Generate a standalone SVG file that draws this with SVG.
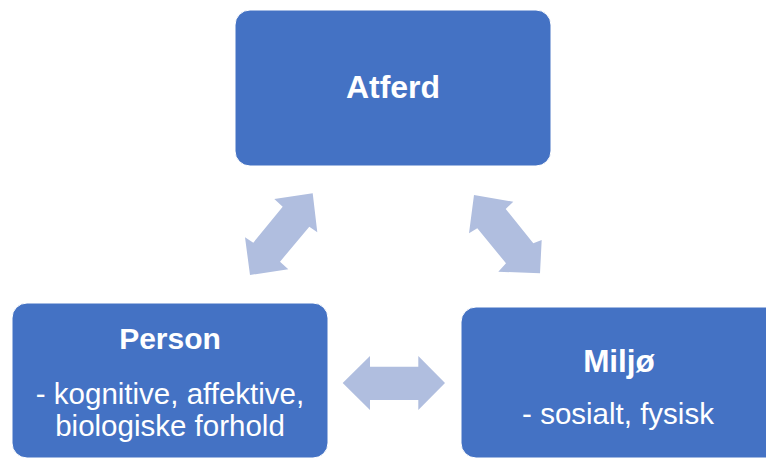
<svg xmlns="http://www.w3.org/2000/svg" width="766" height="460" viewBox="0 0 766 460">
<style>
.box{fill:#4472C4;stroke:#ffffff;stroke-width:1}
.arr{fill:#B0BEDF}
.t{font-family:"Liberation Sans",Arial,sans-serif;fill:#ffffff;text-anchor:middle}
.b{font-weight:bold}
</style>
<rect width="766" height="460" fill="#ffffff"/>
<g id="connectors">
<polygon class="arr" points="312.7,193.3 274.3,199 282.7,206.7 253.3,242.7 245,237.3 250,275 288.3,269.3 280,261.7 309.3,226.7 317.3,232.3"/>
<polygon class="arr" points="474,195 513.3,201.7 505.7,209 533.3,243.3 541.7,240 540,273.3 498.3,271.7 506,263.3 477.3,228.3 469,233.3"/>
<polygon class="arr" points="342.7,383 370,356 370,366.7 418.3,366.7 418.3,356 445,383 418.3,410 418.3,400 370,400 370,410"/>
</g>
<g id="atferd">
<rect class="box" x="235" y="10" width="316" height="156" rx="15"/>
<text class="t b" x="393" y="98" font-size="32">Atferd</text>
</g>
<g id="person">
<rect class="box" x="12" y="303" width="316" height="155" rx="15"/>
<text class="t b" x="170" y="349" font-size="30">Person</text>
<text class="t" x="170" y="404" font-size="29.5">- kognitive, affektive,</text>
<text class="t" x="170" y="436" font-size="29.5">biologiske forhold</text>
</g>
<g id="miljo">
<rect class="box" x="461" y="307" width="330" height="151" rx="15"/>
<text class="t b" x="619" y="372" font-size="31.5">Miljø</text>
<text class="t" x="618" y="424" font-size="29.5">- sosialt, fysisk</text>
</g>
</svg>
